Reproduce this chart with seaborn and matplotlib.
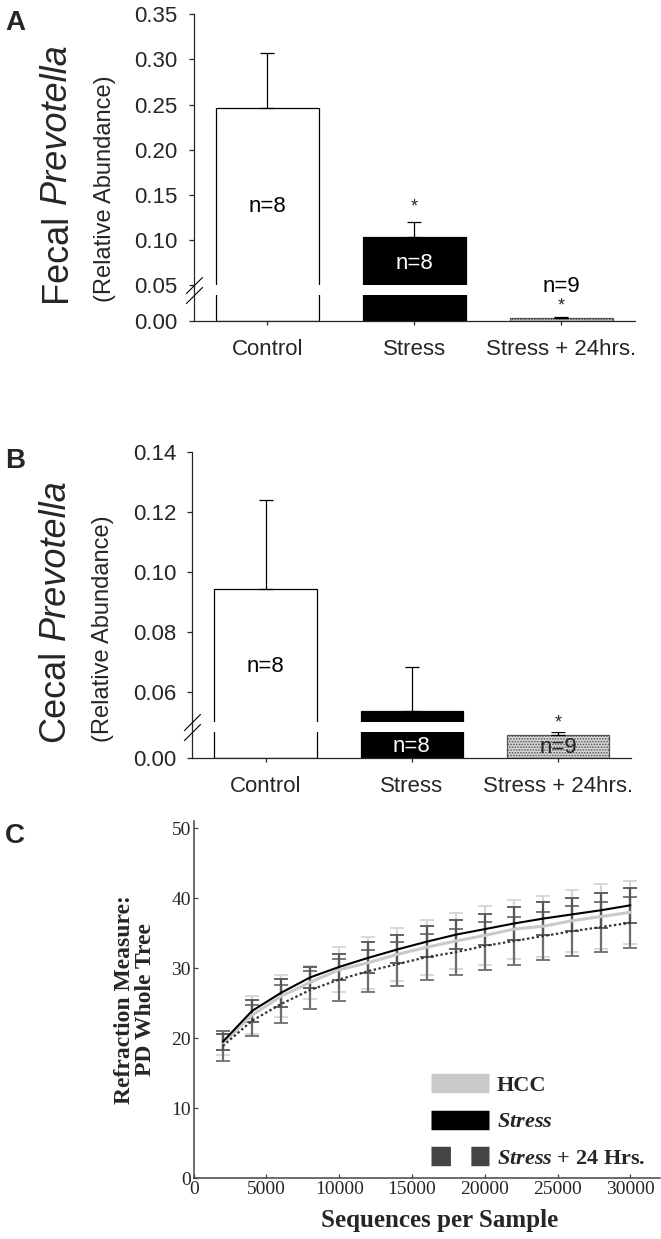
import numpy as np
import pandas as pd
import matplotlib
matplotlib.use("Agg")
import matplotlib.pyplot as plt
import seaborn as sns
from matplotlib.lines import Line2D

# ---------------- data ----------------
categories = ["Control", "Stress", "Stress + 24hrs."]

fecal_mean = [0.246, 0.1035, 0.0012]
fecal_err = [0.0614, 0.0165, 0.0003]
fecal_n = ["n=8", "n=8", "n=9"]
fecal_sig = ["", "*", "*"]

cecal_mean = [0.0944, 0.0539, 0.0088]
cecal_err = [0.0297, 0.0145, 0.0012]
cecal_n = ["n=8", "n=8", "n=9"]
cecal_sig = ["", "", "*"]

seq_per_sample = [2000, 4000, 6000, 8000, 10000, 12000, 14000, 16000,
                  18000, 20000, 22000, 24000, 26000, 28000, 30000]
hcc_mean = [19.3, 23.3, 26.0, 28.0, 29.8, 30.8, 32.0, 33.0, 33.9, 34.7,
            35.6, 36.0, 36.8, 37.4, 38.0]
hcc_err = [1.7, 2.7, 3.0, 2.4, 3.2, 3.7, 3.8, 3.9, 4.0, 4.2, 4.2, 4.4,
           4.4, 4.6, 4.5]
stress_mean = [19.5, 23.9, 26.5, 28.7, 30.2, 31.5, 32.7, 33.8, 34.8, 35.6,
               36.4, 37.1, 37.7, 38.3, 39.0]
stress_err = [1.1, 1.6, 2.0, 1.5, 1.8, 2.2, 2.0, 2.2, 2.1, 2.2, 2.3, 2.4,
              2.4, 2.5, 2.5]
stress24_mean = [18.9, 22.5, 24.9, 26.9, 28.4, 29.6, 30.6, 31.6, 32.3, 33.2,
                 33.9, 34.6, 35.3, 35.9, 36.5]
stress24_err = [2.1, 2.2, 2.7, 2.7, 3.0, 3.0, 3.1, 3.3, 3.3, 3.4, 3.4, 3.4,
                3.6, 3.6, 3.65]
legend_labels = ["HCC", r"$\mathit{Stress}$", r"$\mathit{Stress}$ + 24 Hrs."]

# ---------------- style ----------------
sns.set_style("ticks")
SANS = "Liberation Sans"
SERIF = "Liberation Serif"
plt.rcParams["font.family"] = [SANS, "DejaVu Sans"]
plt.rcParams["mathtext.fontset"] = "custom"
plt.rcParams["mathtext.it"] = "Liberation Serif:italic:bold"
plt.rcParams["mathtext.rm"] = "Liberation Serif:bold"
plt.rcParams["hatch.color"] = "#6a6a6a"
plt.rcParams["hatch.linewidth"] = 0.8

W, H = 661, 1239
fig = plt.figure(figsize=(W / 100, H / 100), dpi=100)


def px_axes(left, top, right, bottom):
    return fig.add_axes([left / W, 1 - bottom / H, (right - left) / W, (bottom - top) / H])


def break_funcs(vals, pos):
    vals = np.asarray(vals, float)
    pos = np.asarray(pos, float)
    return (lambda v: np.interp(v, vals, pos), lambda p: np.interp(p, pos, vals))


bar_colors = ["white", "black", "#d6d6d6"]


def bar_panel(ax, means, errs, ns, sigs, ticks, ymax, scale_pos, n_y, n_col,
              star_off, n9_above, main_word, sub_x, main_x, ylab_y):
    fwd, inv = break_funcs([-1, 0, 0.01, 0.05, ymax, 2], scale_pos)
    ax.set_yscale("function", functions=(fwd, inv))
    df = pd.DataFrame({"cat": categories, "val": means})
    sns.barplot(data=df, x="cat", y="val", hue="cat", palette=bar_colors,
                edgecolor="black", linewidth=0.9, width=0.7, legend=False,
                errorbar=None, ax=ax, saturation=1)
    p = ax.patches[2]
    p.set_hatch("......")
    p.set_edgecolor("#555555")
    ax.errorbar(range(3), means, yerr=[[0, 0, 0], errs], fmt="none",
                ecolor="black", elinewidth=0.9, capsize=5, capthick=0.9, zorder=2)
    ax.set_xlim(-0.5, 2.5)
    ax.set_ylim(0, ymax)
    ax.set_yticks(ticks)
    ax.set_yticklabels([f"{t:.2f}" for t in ticks])
    ax.set_xlabel("")
    ax.set_ylabel("")
    ax.tick_params(axis="y", direction="out", length=3.5, width=0.9, labelsize=16, pad=8)
    ax.tick_params(axis="x", direction="out", length=3, width=0.9, labelsize=16, pad=10)
    for s in ["top", "right"]:
        ax.spines[s].set_visible(False)
    for s in ["left", "bottom"]:
        ax.spines[s].set_linewidth(0.9)
    # axis break
    ax.axhspan(0.01, 0.05, color="white", lw=0, zorder=2.2)
    ax.plot([0, 0], [0.01, 0.05], transform=ax.get_yaxis_transform(),
            marker=[(-1, -1), (1, 1)], markersize=12, ls="none", color="black",
            mew=0.8, clip_on=False, zorder=3)
    # n labels & stars
    for i in range(3):
        top = means[i] + errs[i]
        if sigs[i]:
            ax.annotate(sigs[i], (i, top), xytext=(0, star_off[i]), textcoords="offset points",
                        ha="center", va="center", fontsize=13)
        if n_y[i] is None:
            ax.annotate(ns[i], (i, top), xytext=(0, n9_above), textcoords="offset points",
                        ha="center", va="center", fontsize=16, color=n_col[i])
        else:
            ax.text(i, n_y[i], ns[i], ha="center", va="center", fontsize=16,
                    color=n_col[i], zorder=4)
    t1 = ax.text(main_x, ylab_y, main_word, rotation=90, ha="center", va="bottom",
                 transform=ax.transAxes, fontsize=26)
    ax.annotate("Prevotella", xy=(0.5, 1.0), xycoords=t1, xytext=(0, 7),
                textcoords="offset points", rotation=90, ha="center", va="bottom",
                fontsize=26, style="italic")
    ax.text(sub_x, ylab_y, "(Relative Abundance)", rotation=90, ha="center",
            va="bottom", transform=ax.transAxes, fontsize=17)


# ---------------- panel A ----------------
axA = px_axes(193.7, 14.3, 635, 321)
bar_panel(axA, fecal_mean, fecal_err, fecal_n, fecal_sig,
          [0, 0.05, 0.10, 0.15, 0.20, 0.25, 0.30, 0.35], 0.35,
          [-2600, 0, 26, 36, 306.7, 306.7 + 1.65 * 902],
          [0.137, 0.074, None], ["black", "white", "black"],
          [0, 11, 8], 22, "Fecal", -0.201, -0.312, 0.062)

# ---------------- panel B ----------------
axB = px_axes(192.4, 452.3, 631, 757.5)
bar_panel(axB, cecal_mean, cecal_err, cecal_n, cecal_sig,
          [0, 0.06, 0.08, 0.10, 0.12, 0.14], 0.14,
          [-2500, 0, 25, 35, 305, 305 + 1.86 * 3000],
          [0.0688, 0.0045, 0.0041], ["black", "white", "#222222"],
          [0, 0, 7], 20, "Cecal", -0.204, -0.313, 0.051)

# ---------------- panel C ----------------
axC = px_axes(193.7, 821.3, 659.5, 1178.3)
series = [
    (hcc_mean, hcc_err, "#c9c9c9", "#d6d6d6", 2.2, "-"),
    (stress24_mean, stress24_err, "#333333", "#6e6e6e", 1.6, (0, (1.1, 1.1))),
    (stress_mean, stress_err, "black", "#555555", 1.5, "-"),
]
for mean, err, lc, ec, lw, ls in series:
    axC.errorbar(seq_per_sample, mean, yerr=err, fmt="none", ecolor=ec,
                 elinewidth=1.6, capsize=5, capthick=1.3, zorder=2)
for mean, err, lc, ec, lw, ls in series:
    sns.lineplot(x=seq_per_sample, y=mean, color=lc, linewidth=lw, linestyle=ls,
                 ax=axC, zorder=3)
axC.set_xlim(0, 32000)
axC.set_ylim(0, 51)
axC.set_xticks([0, 5000, 10000, 15000, 20000, 25000, 30000])
axC.set_yticks([0, 10, 20, 30, 40, 50])
for lab in axC.get_xticklabels() + axC.get_yticklabels():
    lab.set_family(SERIF)
axC.tick_params(direction="in", length=3, width=0.9, labelsize=14, pad=2,
                color="#444444")
for s in ["top", "right"]:
    axC.spines[s].set_visible(False)
for s in ["left", "bottom"]:
    axC.spines[s].set_linewidth(1.1)
    axC.spines[s].set_color("#444444")
axC.set_xlabel("Sequences per Sample", fontsize=18, fontweight="bold", family=SERIF)
axC.xaxis.set_label_coords(0.528, -0.085)
axC.set_ylabel("Refraction Measure:\nPD Whole Tree", fontsize=17, fontweight="bold",
               family=SERIF, linespacing=1.05)
axC.yaxis.set_label_coords(-0.08, 0.5)

handles = [
    Line2D([], [], color="#c9c9c9", lw=14, solid_capstyle="butt"),
    Line2D([], [], color="black", lw=14, solid_capstyle="butt"),
    Line2D([], [], color="#444444", lw=14, linestyle=(0, (1.0, 1.05)),
           dash_capstyle="butt"),
]
leg = axC.legend(handles, legend_labels, loc="lower left",
                 bbox_to_anchor=(0.51, 0.026), frameon=False, borderpad=0,
                 borderaxespad=0, handlelength=2.6, handletextpad=0.35,
                 labelspacing=0.72, prop={"family": SERIF, "weight": "bold", "size": 16})

# panel letters
for letter, ypix in [("A", 23), ("B", 461), ("C", 836)]:
    fig.text(5 / W, 1 - ypix / H, letter, fontsize=20, fontweight="bold",
             ha="left", va="center", family=SANS)

fig.savefig("out.png", dpi=100, facecolor="white")
